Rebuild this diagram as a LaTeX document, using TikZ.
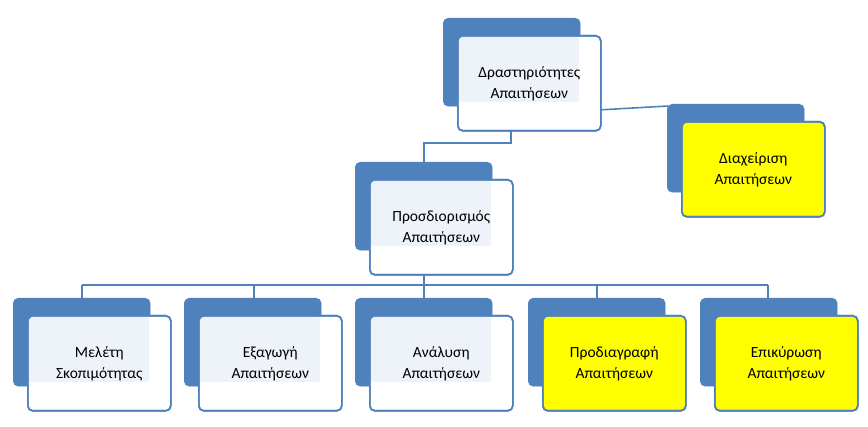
\documentclass[tikz,border=0pt]{standalone}
\usepackage{fontspec}
\setmainfont{Carlito}
\definecolor{bl}{HTML}{4F81BD}
\definecolor{lt}{HTML}{EEF2F9}
\definecolor{yl}{HTML}{FFFF00}
\tikzset{
 back/.style={draw=bl,fill=bl,rounded corners=5pt,minimum width=137pt,minimum height=88pt,anchor=north west,inner sep=0pt},
 front/.style={draw=bl,line width=1.6pt,rounded corners=5pt,minimum width=143pt,minimum height=95pt,anchor=north west,inner sep=0pt,text width=136pt,align=center,font=\fontsize{15.5}{21}\selectfont},
 conn/.style={draw=bl,line width=1.6pt}
}
\newcommand{\mybox}[6]{% name, x, y, text, base fill, inner fill
 \node[back] (#1b) at (#2,#3) {};
 \node[front,fill=#5] (#1bg) at (#2+14,#3+17) {};
 \fill[#6,rounded corners=3pt] (#2+16,#3+19) rectangle (#2+136,#3+84);
 \node[front] (#1f) at (#2+14,#3+17) {#4};
}
\begin{document}
\begin{tikzpicture}[x=1pt,y=-1pt]
\useasboundingbox (0,0) rectangle (868,427);
% connectors (behind)
\coordinate (tc) at (511,60);
\coordinate (pc) at (424,206);
\draw[conn] (tc) |- (468,143) -| (pc);
\draw[conn] (pc) -- (424,285);
\draw[conn] (82,285) -- (768,285);
\foreach \x in {82,254,424,597,768} \draw[conn] (\x,285) -- (\x,300);
\draw[conn] (598,110) -- (668,106);
% boxes
\mybox{top}{443}{18}{Δραστηριότητες\\Απαιτήσεων}{white}{lt}
\mybox{dia}{667}{104}{Διαχείριση\\Απαιτήσεων}{yl}{yl}
\mybox{pro}{355}{162}{Προσδιορισμός\\Απαιτήσεων}{white}{lt}
\mybox{m}{13}{298}{Μελέτη\\Σκοπιμότητας}{white}{lt}
\mybox{e}{184}{298}{Εξαγωγή\\Απαιτήσεων}{white}{lt}
\mybox{a}{355}{298}{Ανάλυση\\Απαιτήσεων}{white}{lt}
\mybox{p}{528}{298}{Προδιαγραφή\\Απαιτήσεων}{yl}{yl}
\mybox{k}{700}{298}{Επικύρωση\\Απαιτήσεων}{yl}{yl}
\end{tikzpicture}
\end{document}
